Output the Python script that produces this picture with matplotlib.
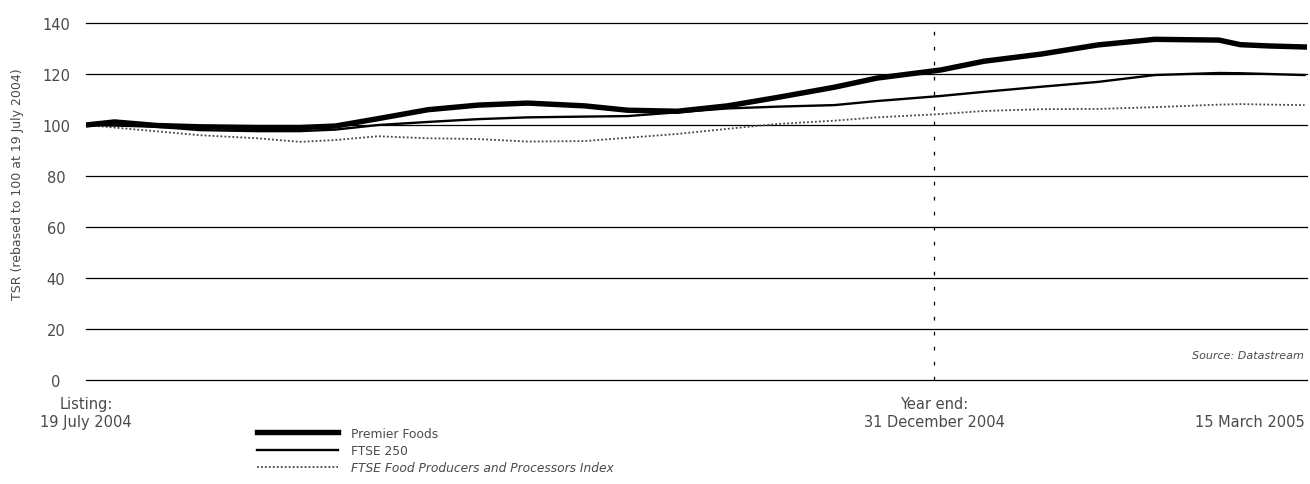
import matplotlib
matplotlib.use("Agg")
import matplotlib.pyplot as plt
import numpy as np

dates = ["2004-07-19", "2004-07-23", "2004-07-31", "2004-08-10", "2004-08-20", "2004-08-30",
         "2004-09-05", "2004-09-14", "2004-09-23", "2004-10-03", "2004-10-13", "2004-10-23",
         "2004-11-02", "2004-11-11", "2004-11-21", "2004-12-01", "2004-12-11", "2004-12-21",
         "2005-01-01", "2005-01-11", "2005-01-21", "2005-02-02", "2005-02-14", "2005-02-25",
         "2005-03-02", "2005-03-08", "2005-03-15"]
premier = [100, 101.2, 99.8, 99.3, 99, 99, 99.6, 102.5, 106, 107.8, 108.6, 107.5,
           105.8, 105.4, 107.5, 110.8, 114.8, 118.4, 121.6, 125, 127.8, 131.4, 133.6, 133.3,
           131.5, 131, 130.6]
ftse250 = [100, 99.8, 99.3, 98, 97.6, 97.6, 98.2, 100, 101.2, 102.3, 103, 103.3,
           103.5, 105, 106.5, 107.2, 107.8, 109.4, 111.4, 113, 115, 116.9, 119.6, 120.4,
           120.3, 120, 119.6]
food = [100, 99, 97.5, 96, 94.8, 93.4, 94.1, 95.6, 94.8, 94.5, 93.5, 93.7,
        95, 96.5, 98.5, 100.4, 101.7, 103, 104.3, 105.5, 106.2, 106.3, 107, 108,
        108.2, 108, 107.8]
series_names = ["Premier Foods", "FTSE 250", "FTSE Food Producers and Processors Index"]
yticks = [0, 20, 40, 60, 80, 100, 120, 140]
year_end = "2004-12-31"
xlabels = ["Listing:\n19 July 2004", "Year end:\n31 December 2004", "15 March 2005"]

plt.rcParams['font.family'] = ['DejaVu Sans']
txt = '#4a4a4a'

# x positions as trading days since listing
start = np.datetime64(dates[0])
x = np.busday_count(start, np.array(dates, dtype='datetime64[D]'))
ye = np.busday_count(start, np.datetime64(year_end))

fig = plt.figure(figsize=(13.1, 4.85), dpi=100)
ax = fig.add_axes([0.0656, 0.2144, 0.9324, 0.7361])

for v in yticks:
    ax.axhline(v, color='black', lw=0.9, zorder=1, clip_on=False)

ax.plot(x, food, color='#444444', lw=1.3, ls=(0, (1, 1.2)), label=series_names[2], zorder=3)
ax.plot(x, ftse250, color='black', lw=1.7, label=series_names[1], zorder=4)
ax.plot(x, premier, color='black', lw=3.9, label=series_names[0], zorder=5)

ax.axvline(ye, color='black', lw=0.9, ls=(0, (3, 9)), zorder=2, clip_on=False)

ax.set_xlim(x[0], x[-1] + 0.4)
ax.set_ylim(0, 140)
ax.set_yticks(yticks)
ax.set_yticklabels([str(v) for v in yticks], fontsize=10.5, color=txt, ha='center')
ax.tick_params(axis='y', length=0, pad=21.5)
ax.set_xticks([])
for s in ax.spines.values():
    s.set_visible(False)
ax.set_ylabel("TSR (rebased to 100 at 19 July 2004)", fontsize=9, color=txt)
ax.yaxis.set_label_coords(-0.0508, 0.55)

trans = ax.get_xaxis_transform()
ax.text(x[0], -0.045, xlabels[0], transform=trans, ha='center', va='top', fontsize=10.5,
        color=txt, linespacing=1.25)
ax.text(ye, -0.045, xlabels[1], transform=trans, ha='center', va='top', fontsize=10.5,
        color=txt, linespacing=1.25)
ax.text(x[-1], -0.045, "\n" + xlabels[2], transform=trans, ha='right', va='top', fontsize=10.5,
        color=txt, linespacing=1.25)
ax.text(0.997, 0.07, "Source: Datastream", transform=ax.transAxes, ha='right', va='center',
        fontsize=8, style='italic', color=txt)

h, l = ax.get_legend_handles_labels()
order = [2, 1, 0]
leg = fig.legend([h[i] for i in order], [l[i] for i in order], loc='upper left',
                 bbox_to_anchor=(0.1962, 0.118), frameon=False, fontsize=8.8,
                 handlelength=6.6, handletextpad=1.05, labelspacing=0.34,
                 borderaxespad=0, borderpad=0)
for t in leg.get_texts():
    t.set_color(txt)
leg.get_texts()[2].set_style('italic')

fig.savefig("out.png", dpi=100)
